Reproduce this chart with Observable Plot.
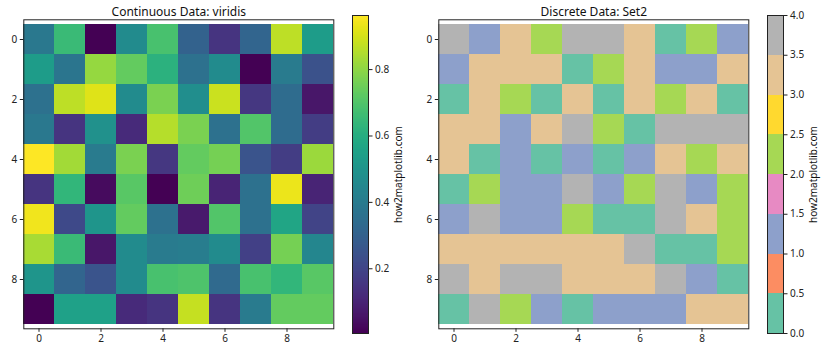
<!DOCTYPE html>
<html><head><meta charset="utf-8">
<script src="https://cdn.jsdelivr.net/npm/d3@7"></script>
<script src="https://cdn.jsdelivr.net/npm/@observablehq/plot@0.6"></script>
<style>
body{margin:0;background:#fff}
#c{position:relative;width:840px;height:350px;overflow:hidden}
#c > *{position:absolute;top:0}
</style>
</head><body><div id="c"></div>
<script>
const FONT = '"Noto Sans", "DejaVu Sans", sans-serif';
const indices = [0,1,2,3,4,5,6,7,8,9];
const axisTicks = [0,2,4,6,8];
const continuousTitle = "Continuous Data: viridis";
const discreteTitle = "Discrete Data: Set2";
const cbLabel = "how2matplotlib.com";

const continuous = [
  [0.388,0.656,0.005,0.465,0.685,0.302,0.149,0.312,0.867,0.532],
  [0.532,0.379,0.810,0.733,0.618,0.359,0.465,0.005,0.398,0.245],
  [0.359,0.867,0.915,0.465,0.771,0.474,0.886,0.158,0.340,0.062],
  [0.388,0.149,0.484,0.120,0.858,0.771,0.359,0.704,0.340,0.177],
  [0.963,0.829,0.398,0.771,0.158,0.733,0.762,0.254,0.177,0.819],
  [0.149,0.637,0.034,0.714,0.005,0.752,0.101,0.359,0.934,0.101],
  [0.944,0.216,0.503,0.733,0.359,0.072,0.704,0.359,0.570,0.197],
  [0.838,0.656,0.062,0.465,0.398,0.407,0.465,0.187,0.762,0.446],
  [0.503,0.312,0.254,0.465,0.685,0.695,0.331,0.685,0.637,0.714],
  [0.005,0.551,0.551,0.120,0.149,0.877,0.149,0.398,0.733,0.733]
];
const discrete = [
  [4,1,3,2,4,4,3,0,2,1],
  [1,3,3,3,0,2,3,1,1,3],
  [0,3,2,0,3,0,3,2,3,0],
  [3,3,1,3,4,2,0,4,4,4],
  [3,0,1,0,1,0,1,3,2,3],
  [0,2,1,1,4,1,2,4,1,2],
  [1,4,1,1,2,0,0,4,3,2],
  [3,3,3,3,3,3,4,0,0,2],
  [4,3,4,4,3,3,3,4,1,0],
  [0,4,2,1,0,1,1,1,3,3]
];
const set2 = ["#66c2a5","#fc8d62","#8da0cb","#e78ac3","#a6d854","#ffd92f","#e5c494","#b3b3b3"];
const discreteLevels = [0,1,2,3,4];
const discreteLevelColors = [set2[0], set2[2], set2[4], set2[6], set2[7]];
const binEdges = [0,0.5,1,1.5,2,2.5,3,3.5,4];
const contTicks = [0.2,0.4,0.6,0.8];
const discTicks = [0,0.5,1,1.5,2,2.5,3,3.5,4];

const toTable = (m) => m.flatMap((r, i) => r.map((v, j) => ({row: i, col: j, value: v})));
const vmin = d3.min(continuous.flat()), vmax = d3.max(continuous.flat());

const style = {fontFamily: FONT, fontSize: "10px", color: "#222", background: "transparent", overflow: "visible"};

function heatmap(matrix, color, title, left) {
  const W = 420;
  const fl = 23.3, fr = 333.3, ft = 19.3, fb = 328.3;
  const p = Plot.plot({
    width: W, height: 350,
    marginLeft: fl, marginRight: W - fr, marginTop: ft, marginBottom: 350 - fb,
    style,
    x: {type: "band", domain: indices, padding: 0},
    y: {type: "band", domain: indices, padding: 0},
    color,
    marks: [
      Plot.cell(toTable(matrix), {x: "col", y: "row", fill: "value", inset: 0, shapeRendering: "crispEdges"}),
      Plot.frame({stroke: "#222", strokeWidth: 1}),
      Plot.axisX({ticks: axisTicks, tickSize: 3.5, tickPadding: 3, label: null, stroke: "#222"}),
      Plot.axisY({ticks: axisTicks, tickSize: 3.5, tickPadding: 3, label: null, stroke: "#222"}),
      Plot.text([title], {frameAnchor: "top", dy: -4, lineAnchor: "bottom", fontSize: 12, fill: "#111"})
    ]
  });
  p.style.left = left + "px";
  return p;
}

function colorbarFrame(marks, yDomain, ticks, color, left) {
  const p = Plot.plot({
    width: 80, height: 350,
    marginLeft: 2, marginRight: 80 - 2 - 16, marginTop: 15, marginBottom: 17,
    style,
    x: {domain: [0, 1], axis: null},
    y: {domain: yDomain, axis: null},
    color,
    marks: [
      ...marks,
      Plot.frame({stroke: "#222", strokeWidth: 1}),
      Plot.axisY({anchor: "right", ticks, tickFormat: ".1f", tickSize: 3.5, tickPadding: 3, label: null, stroke: "#222"}),
      Plot.text([cbLabel], {frameAnchor: "right", dx: 30, rotate: -90, textAnchor: "middle", lineAnchor: "middle", fontSize: 10, fill: "#111"})
    ]
  });
  p.style.left = left + "px";
  return p;
}

const c = document.getElementById("c");
const contColor = {type: "linear", scheme: "viridis", domain: [vmin, vmax]};
c.appendChild(heatmap(continuous, contColor, continuousTitle, 0));
c.appendChild(heatmap(discrete, {type: "ordinal", domain: discreteLevels, range: discreteLevelColors}, discreteTitle, 415));

c.appendChild(colorbarFrame([
  Plot.raster({x1: 0, x2: 1, y1: vmin, y2: vmax, width: 1, height: 318, fill: (x, y) => y, imageRendering: "auto"})
], [vmin, vmax], contTicks, contColor, 350.3));

const bins = binEdges.slice(0, -1).map((b, i) => ({y1: b, y2: binEdges[i + 1], color: set2[i]}));
c.appendChild(colorbarFrame([
  Plot.rect(bins, {x1: 0, x2: 1, y1: "y1", y2: "y2", fill: "color", shapeRendering: "crispEdges"})
], [0, 4], discTicks, {type: "identity"}, 765.3));
</script>
</body></html>
